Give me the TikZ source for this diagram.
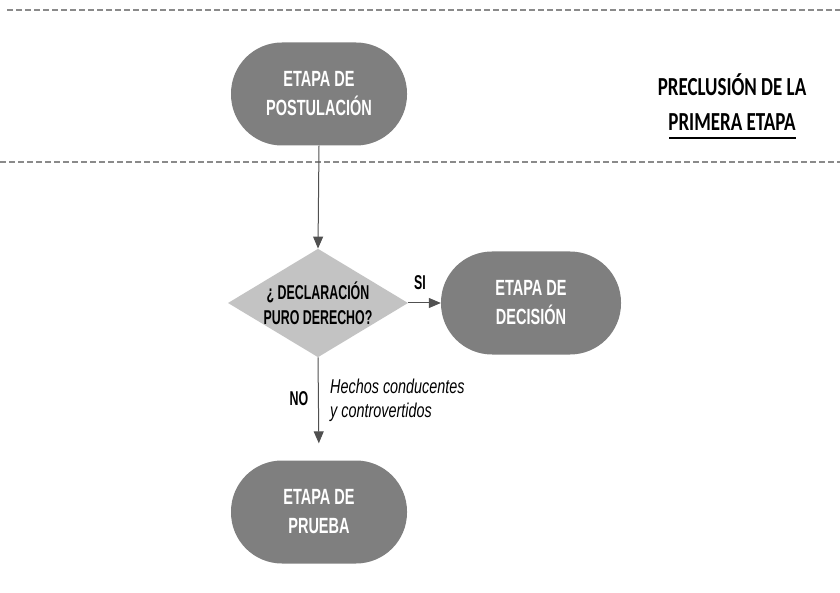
\documentclass[tikz,border=0pt]{standalone}
\usepackage{fontspec}
\setmainfont{Liberation Sans}
\newfontfamily\narrowf[FakeStretch=0.66]{Liberation Sans}
\newfontfamily\narrowd[FakeStretch=0.62]{Liberation Sans}
\newfontfamily\narrowi[FakeStretch=0.72]{Liberation Sans}
\newfontfamily\headf[FakeStretch=0.73]{Carlito}
\usetikzlibrary{shapes.geometric,arrows.meta}
\definecolor{boxgray}{HTML}{7F7F7F}
\definecolor{diagray}{HTML}{C3C3C3}
\definecolor{linegray}{HTML}{505050}
\definecolor{dashgray}{HTML}{8A8A8A}
\tikzset{
  stage/.style={rectangle, rounded corners=51pt, fill=boxgray, minimum width=176pt, minimum height=103pt,
    text=white, font=\narrowf\bfseries\fontsize{22}{29}\selectfont, align=center, inner sep=0pt},
  decision/.style={diamond, fill=diagray, minimum width=178pt, minimum height=107pt, aspect=1.66,
    inner sep=0pt, font=\narrowd\bfseries\fontsize{20}{25}\selectfont, align=center},
  conn/.style={draw=linegray, line width=1pt, -{Triangle[length=12pt,width=10pt]}},
  sep/.style={draw=dashgray, line width=1.3pt, dash pattern=on 6pt off 3pt},
  lbl/.style={font=\narrowd\bfseries\fontsize{20}{24}\selectfont, inner sep=0pt},
}
\begin{document}
\begin{tikzpicture}[x=1pt,y=-1pt]
\useasboundingbox (0,0) rectangle (840,593);
\coordinate (d1a) at (7,10); \coordinate (d1b) at (840,10);
\coordinate (d2a) at (0,162); \coordinate (d2b) at (840,162);
\draw[sep] (d1a) -- (d1b);
\draw[sep] (d2a) -- (d2b);
\node[stage] (post) at (319,94) {ETAPA DE\\POSTULACIÓN};
\node[decision] (dec) at (318,303) {¿ DECLARACIÓN\\PURO DERECHO?};
\node[stage, minimum width=180pt] (deci) at (531,303) {ETAPA DE\\DECISIÓN};
\node[stage] (prue) at (319,512) {ETAPA DE\\PRUEBA};
\node[font=\headf\bfseries\fontsize{26}{35}\selectfont, align=center, inner sep=0pt] (head) at (732,102)
  {PRECLUSIÓN DE LA\\PRIMERA ETAPA};
\coordinate (ula) at (669,138); \coordinate (ulb) at (796,138);
\draw[line width=1.8pt] (ula) -- (ulb);
\draw[conn] (post.south) -- (dec.north);
\draw[conn] (dec.east) -- (deci.west);
\draw[conn, shorten >=17pt] (dec.south) -- (prue.north);
\node[lbl] (si) at (420,283) {SI};
\node[lbl] (no) at (299,399) {NO};
\node[font=\narrowi\itshape\fontsize{20}{24}\selectfont, align=left, inner sep=0pt, anchor=west] (hc) at (330,400)
  {Hechos conducentes\\y controvertidos};
\end{tikzpicture}
\end{document}
